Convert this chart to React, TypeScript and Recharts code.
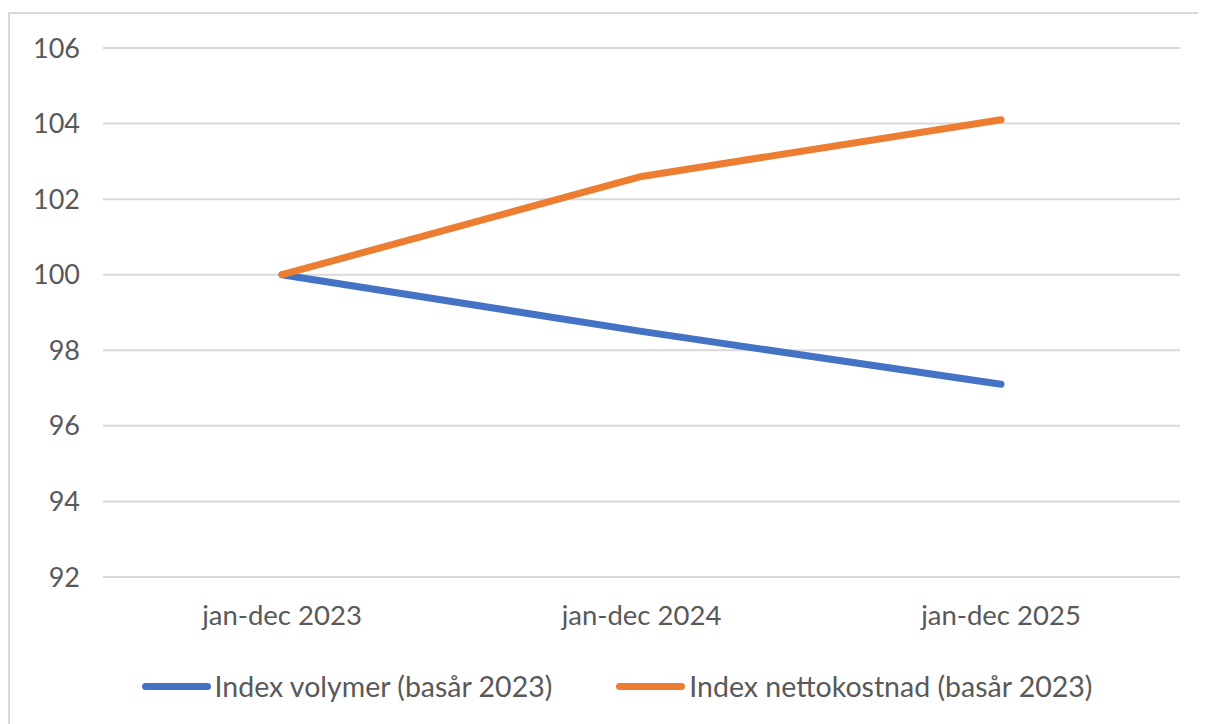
import { CartesianGrid, Legend, Line, LineChart, XAxis, YAxis } from "recharts";

const periods = ["jan-dec 2023", "jan-dec 2024", "jan-dec 2025"];
const volymer = [100, 98.5, 97.1];
const nettokostnad = [100, 102.6, 104.1];
const yTicks = [92, 94, 96, 98, 100, 102, 104, 106];

const seriesInfo = [
  { key: "volymer", name: "Index volymer (basår 2023)", color: "#4472C4" },
  { key: "netto", name: "Index nettokostnad (basår 2023)", color: "#ED7D31" },
];

const FONT = "Lato, 'Open Sans', sans-serif";
const TEXT = "#595959";

function LegendRow() {
  return (
    <div
      style={{
        display: "flex",
        justifyContent: "center",
        alignItems: "center",
        height: 40,
        paddingLeft: 44,
        boxSizing: "border-box",
        fontFamily: FONT,
        fontSize: 28.5,
        color: TEXT,
        gap: 64,
      }}
    >
      {seriesInfo.map((s) => (
        <div key={s.key} style={{ display: "flex", alignItems: "center" }}>
          <span
            style={{
              display: "inline-block",
              width: 69,
              height: 7,
              borderRadius: 3.5,
              background: s.color,
              marginRight: 4,
            }}
          />
          <span>{s.name}</span>
        </div>
      ))}
    </div>
  );
}

export default function App() {
  const data = periods.map((p, i) => ({
    period: p,
    volymer: volymer[i],
    netto: nettokostnad[i],
  }));

  return (
    <div
      style={{
        marginTop: 4,
        width: 1190,
        height: 720,
        border: "2px solid #d9d9d9",
        background: "#fff",
      }}
    >
      <LineChart
        width={1190}
        height={700}
        data={data}
        margin={{ top: 34, right: 20, bottom: 8, left: 0 }}
      >
        <CartesianGrid vertical={false} stroke="#d9d9d9" strokeWidth={2} />
        <XAxis
          dataKey="period"
          axisLine={false}
          tickLine={false}
          tickSize={0}
          tickMargin={28}
          height={89}
          padding={{ left: 179, right: 179 }}
          tick={{ fill: TEXT, fontSize: 27.5, fontFamily: FONT }}
        />
        <YAxis
          domain={[92, 106]}
          ticks={yTicks}
          axisLine={false}
          tickLine={false}
          tickSize={0}
          tickMargin={23}
          width={93}
          tick={{ fill: TEXT, fontSize: 27, fontFamily: FONT }}
        />
        <Legend verticalAlign="bottom" height={40} content={() => <LegendRow />} />
        {seriesInfo.map((s) => (
          <Line
            key={s.key}
            type="linear"
            dataKey={s.key}
            name={s.name}
            stroke={s.color}
            strokeWidth={7}
            strokeLinecap="round"
            strokeLinejoin="round"
            dot={false}
            activeDot={false}
            isAnimationActive={false}
          />
        ))}
      </LineChart>
    </div>
  );
}
